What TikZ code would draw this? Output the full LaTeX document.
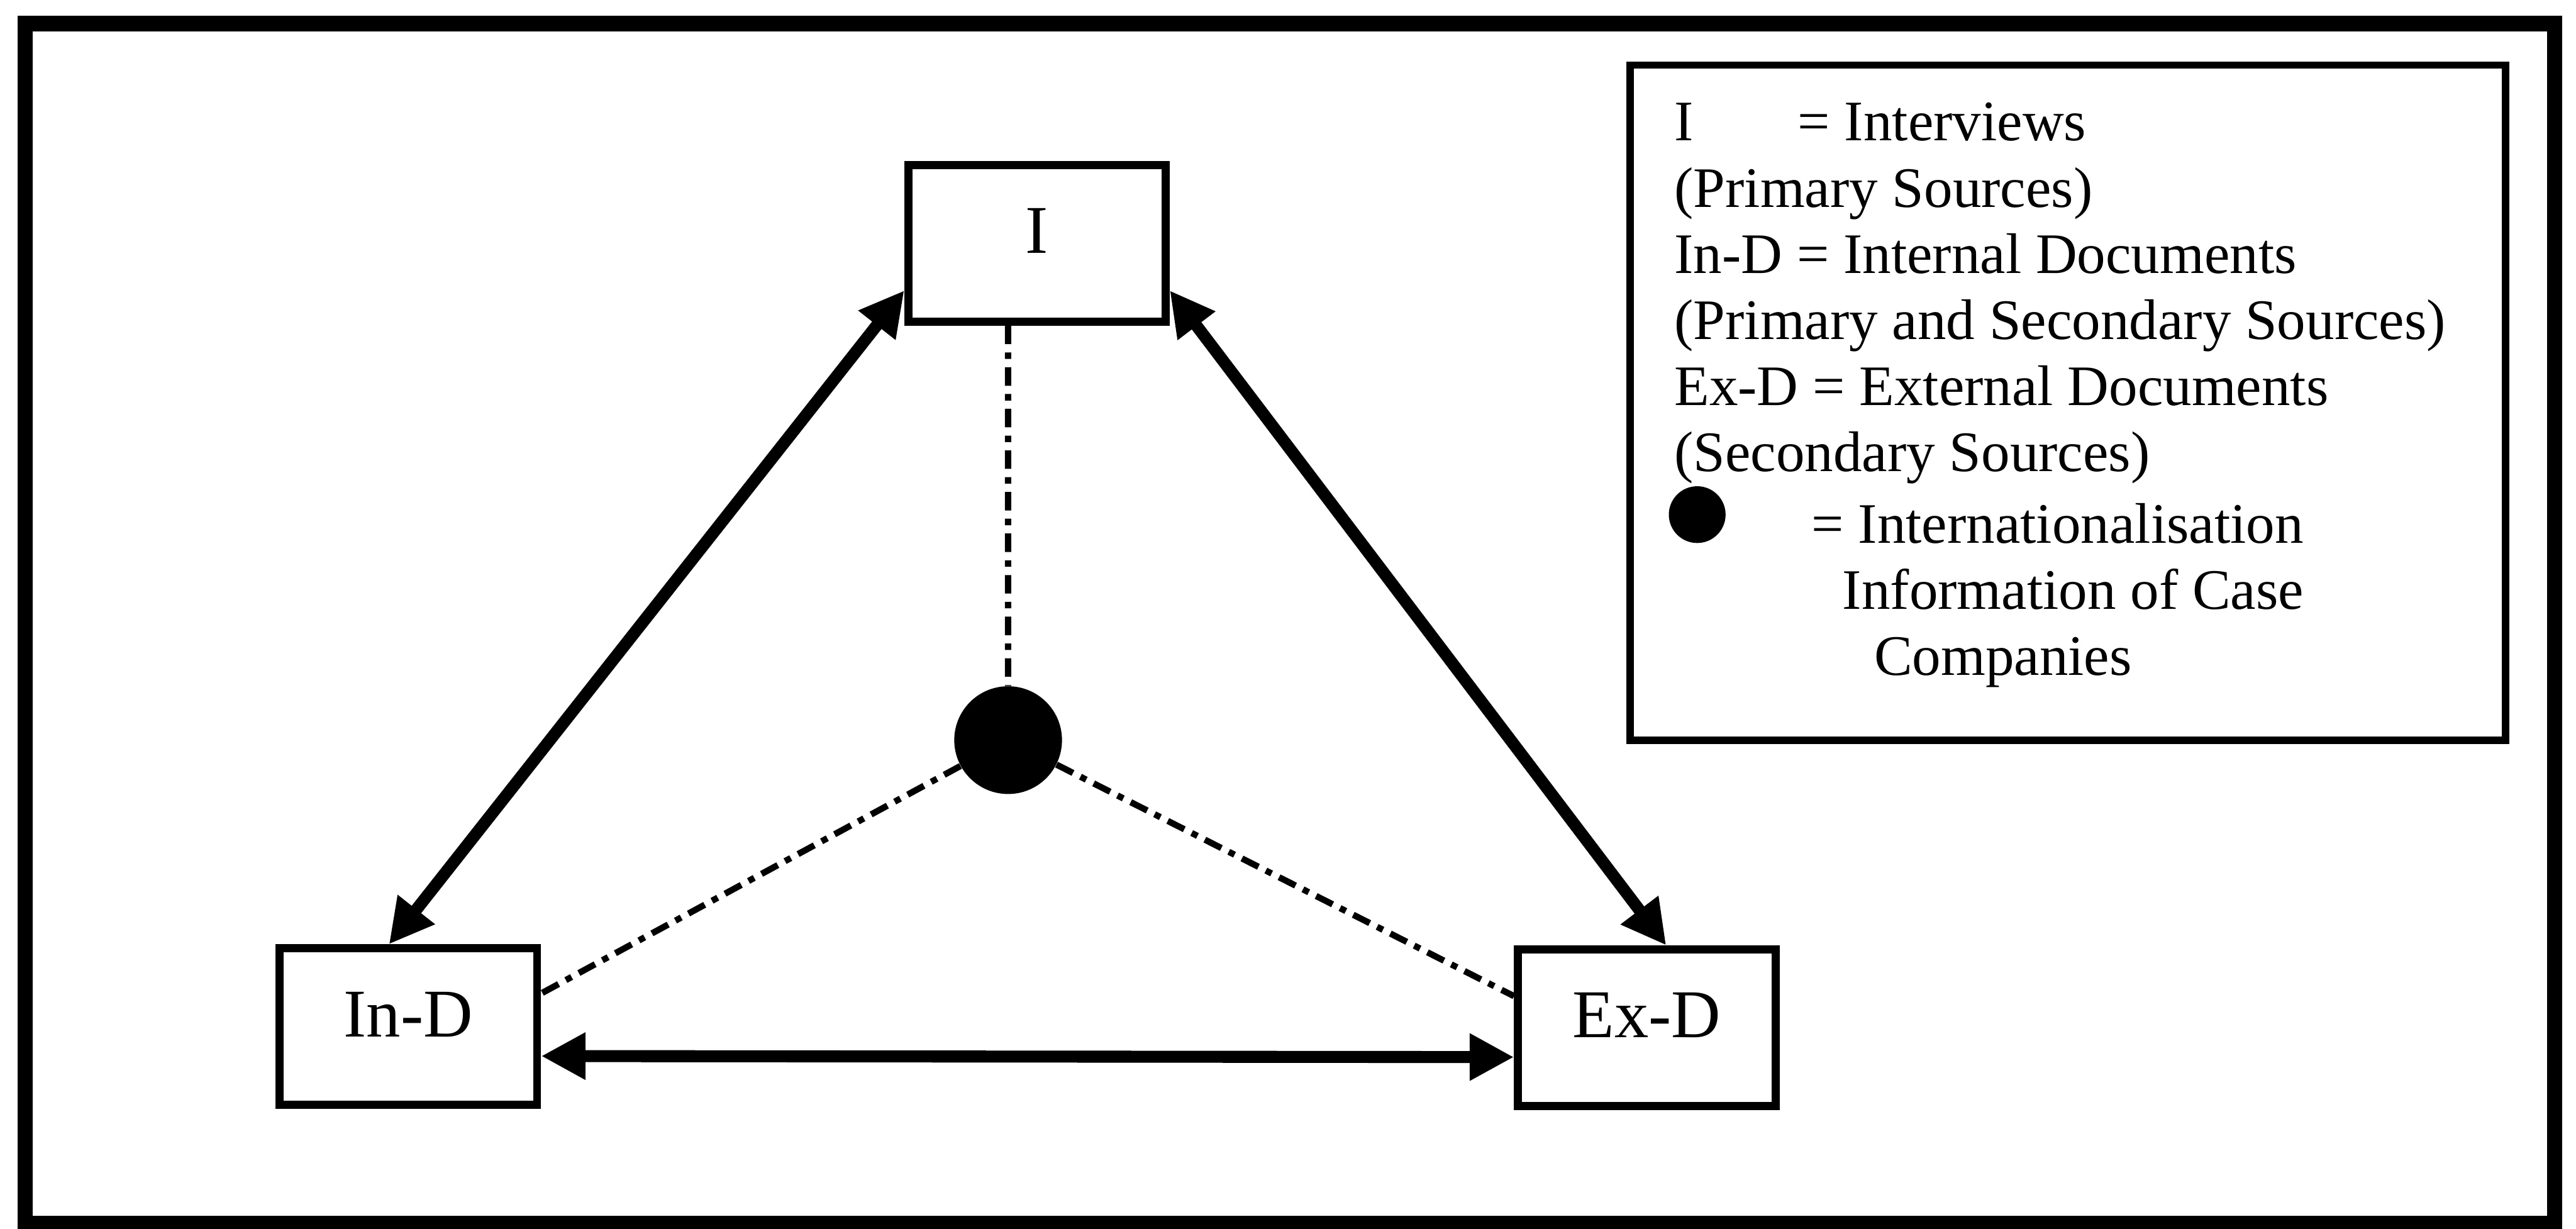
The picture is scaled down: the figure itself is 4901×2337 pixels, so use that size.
\documentclass[tikz,border=0pt]{standalone}
\usepackage{fontspec}
\setmainfont{Liberation Serif}
\usetikzlibrary{arrows.meta}
\tikzset{box/.style={rectangle,draw,line width=4.3pt,minimum width=4.9cm,minimum height=2.98cm,inner sep=0pt,font=\fontsize{37}{40}\selectfont,text height=25pt,text depth=0.5cm},link/.style={arrows={Triangle[length=24pt,width=24pt]-Triangle[length=24pt,width=24pt]},line width=6.5pt},trace/.style={line width=3.4pt,dash pattern=on 10pt off 4.5pt on 3.5pt off 4.5pt},dot/.style={circle,fill,inner sep=0pt}}

\begin{document}
\begin{tikzpicture}[x=0.1mm,y=-0.1mm]
\useasboundingbox (0,0) rectangle (4901,2337);
\draw[line width=8.3pt] (48,45) rectangle (4860,2327);
% sources
\node[box] (i) at (1973,463) {I};
\node[box] (ind) at (777,1953) {In-D};
\node[box] (exd) at (3133,1955) {Ex-D};
\node[dot,minimum size=2.05cm] (info) at (1918,1408) {};
% triangulation
\draw[link] ([yshift=0.67cm]i.south west) -- ([xshift=-0.37cm]ind.north);
\draw[link] ([yshift=0.67cm]i.south east) -- ([xshift=0.37cm]exd.north);
\draw[link] ([yshift=-0.56cm]ind.east) -- ([yshift=-0.56cm]exd.west);
\draw[trace] ([xshift=-0.55cm]i.south) -- (info.north);
\draw[trace] (info) -- ([yshift=0.63cm]ind.east);
\draw[trace] (info) -- ([yshift=0.6cm]exd.west);
% key
\draw[line width=4pt] (3101,124) rectangle (4767,1408);
\node[anchor=north west,inner sep=0pt,align=left,font=\fontsize{31}{35.8}\selectfont] (key) at (3185,195) {\makebox[2.35cm][l]{I}= Interviews\\(Primary Sources)\\In-D = Internal Documents\\(Primary and Secondary Sources)\\Ex-D = External Documents\\(Secondary Sources)\\[0.1cm]\hspace*{2.61cm}= Internationalisation\\\hspace*{3.2cm}Information of Case\\\hspace*{3.8cm}Companies};
\node[dot,minimum size=1.08cm] (keydot) at (3229,979) {};
\end{tikzpicture}
\end{document}
